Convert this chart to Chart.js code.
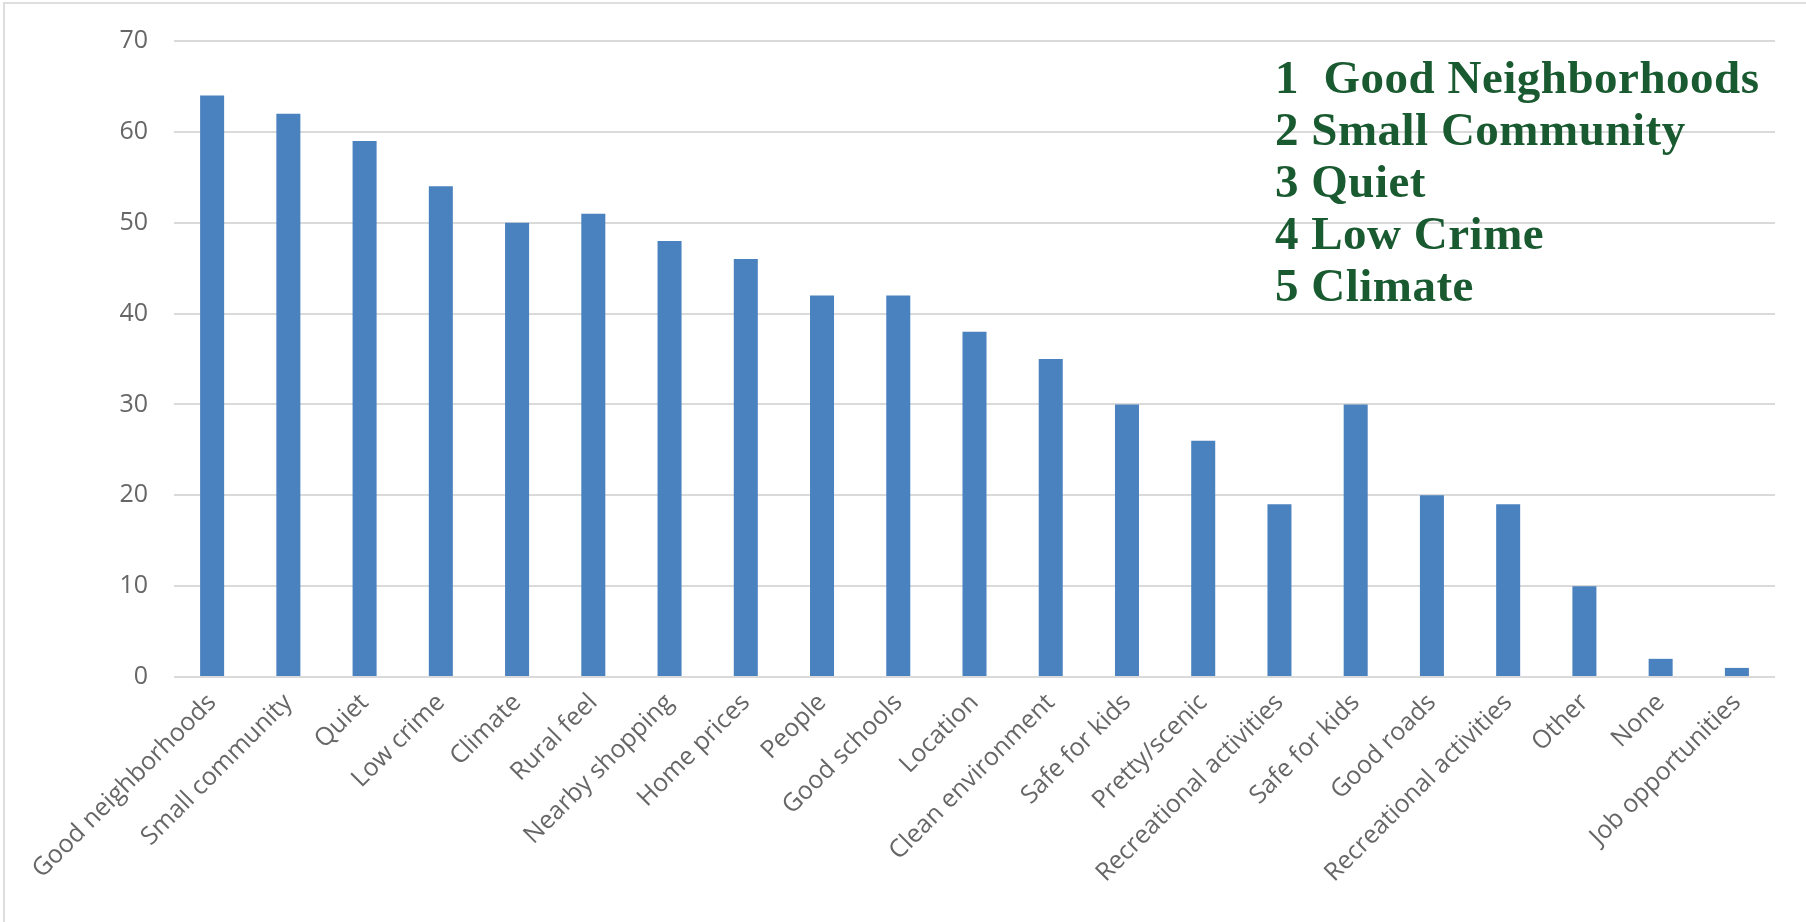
<!DOCTYPE html>
<html>
<head>
<meta charset="utf-8">
<script src="https://cdn.jsdelivr.net/npm/chart.js@4/dist/chart.umd.min.js"></script>
<style>
  html, body { margin: 0; padding: 0; background: #fff; }
  #wrap { width: 1806px; height: 922px; position: relative; }
</style>
</head>
<body>
<div id="wrap"><canvas id="surveyChart" width="1806" height="922"></canvas></div>
<script>
// What residents like about living here (number of responses)
const categories = [
    'Good neighborhoods', 'Small community', 'Quiet', 'Low crime', 'Climate',
    'Rural feel', 'Nearby shopping', 'Home prices', 'People', 'Good schools',
    'Location', 'Clean environment', 'Safe for kids', 'Pretty/scenic',
    'Recreational activities', 'Safe for kids', 'Good roads',
    'Recreational activities', 'Other', 'None', 'Job opportunities'
];
const responses = [64, 62, 59, 54, 50, 51, 48, 46, 42, 42, 38, 35, 30, 26, 19, 30, 20, 19, 10, 2, 1];
const yTicks = [0, 10, 20, 30, 40, 50, 60, 70];

// Top five ranking shown in the upper right
const rankLines = ['1  Good Neighborhoods', '2 Small Community', '3 Quiet', '4 Low Crime', '5 Climate'];

// Background and the thin frame on the top and left edges
const framePlugin = {
    id: 'frame',
    beforeDraw(chart) {
        const ctx = chart.ctx;
        ctx.save();
        ctx.fillStyle = '#ffffff';
        ctx.fillRect(0, 0, chart.width, chart.height);
        ctx.strokeStyle = '#dedede';
        ctx.lineWidth = 2;
        ctx.beginPath();
        ctx.moveTo(4, chart.height);
        ctx.lineTo(4, 3);
        ctx.lineTo(chart.width, 3);
        ctx.stroke();
        ctx.restore();
    }
};

const rankPlugin = {
    id: 'ranking',
    afterDraw(chart) {
        const ctx = chart.ctx;
        ctx.save();
        ctx.fillStyle = '#1a5a30';
        ctx.font = 'bold 47px "Liberation Serif", "DejaVu Serif", serif';
        ctx.letterSpacing = '0.5px';
        ctx.textBaseline = 'alphabetic';
        ctx.textAlign = 'left';
        rankLines.forEach((line, i) => {
            ctx.fillText(line, 1275, 93 + i * 52);
        });
        ctx.restore();
    }
};

const tickFont = { family: '"Open Sans", "DejaVu Sans", sans-serif', size: 25 };

const ctx = document.getElementById('surveyChart').getContext('2d');
const surveyChart = new Chart(ctx, {
    type: 'bar',
    data: {
        labels: categories,
        datasets: [{
            label: 'Responses',
            data: responses,
            backgroundColor: '#4a81bf',
            borderWidth: 0,
            categoryPercentage: 0.315,
            barPercentage: 1
        }]
    },
    options: {
        responsive: false,
        animation: false,
        layout: {
            padding: { left: 5, top: 39, right: 31, bottom: 0 }
        },
        plugins: {
            legend: { display: false },
            tooltip: { enabled: false }
        },
        scales: {
            x: {
                grid: { display: false, drawTicks: false },
                border: { display: false },
                ticks: {
                    autoSkip: false,
                    maxRotation: 45,
                    minRotation: 45,
                    padding: 11,
                    color: '#666666',
                    font: tickFont
                },
                afterFit(scale) { scale.height = 245; }
            },
            y: {
                min: 0,
                max: 70,
                afterBuildTicks(scale) {
                    scale.ticks = yTicks.map(v => ({ value: v }));
                },
                grid: { color: '#dadada', lineWidth: 2, drawTicks: false },
                border: { display: false },
                ticks: {
                    padding: 26,
                    color: '#666666',
                    font: tickFont
                },
                afterFit(scale) { scale.width = 169; }
            }
        }
    },
    plugins: [framePlugin, rankPlugin]
});
</script>
</body>
</html>
